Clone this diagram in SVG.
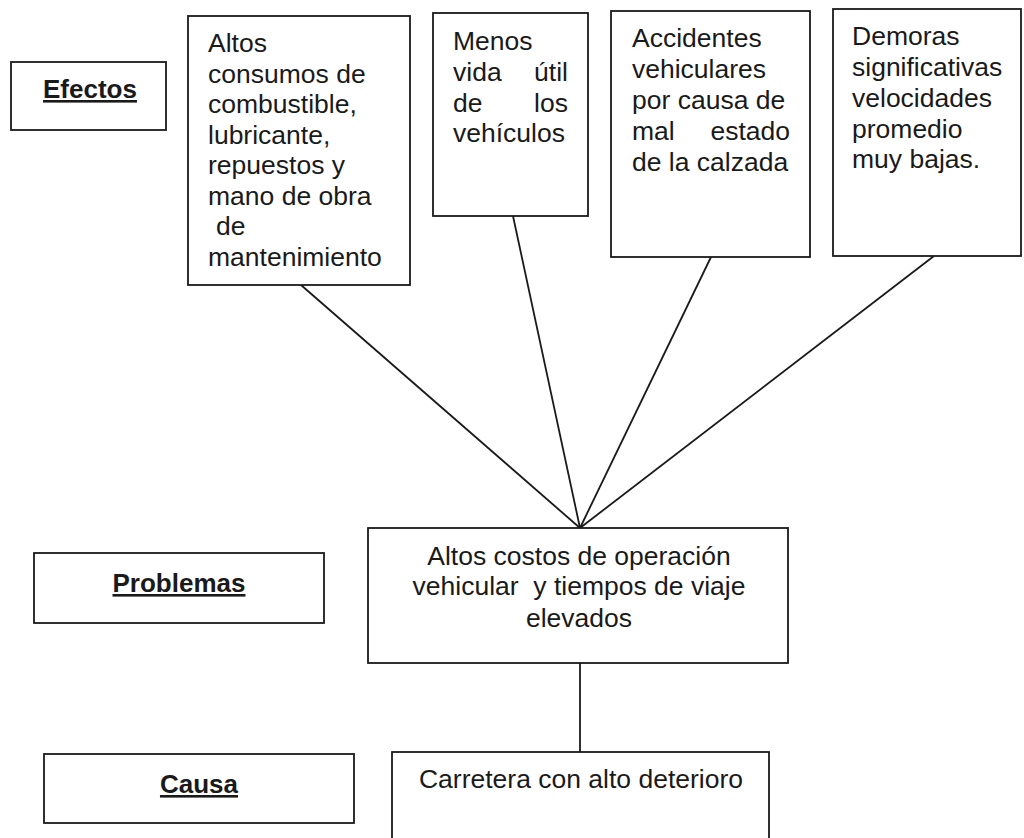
<svg xmlns="http://www.w3.org/2000/svg" width="1024" height="838" viewBox="0 0 1024 838">
<style>
.box{fill:#fff;stroke:#1a1a1a;stroke-width:1.8}
.t{font-family:"Liberation Sans",Arial,sans-serif;font-size:26.5px;fill:#1a1a1a}
.c{text-anchor:middle}
.e{text-anchor:end}
.lbl{font-family:"Liberation Sans",Arial,sans-serif;font-size:26px;font-weight:bold;fill:#1a1a1a;text-anchor:middle;text-decoration:underline}
.con{stroke:#1a1a1a;stroke-width:1.8;fill:none}
</style>
<rect width="1024" height="838" fill="#fff"/>
<g id="connectors">
<line class="con" x1="301" y1="285" x2="580" y2="528"/>
<line class="con" x1="513" y1="216" x2="580" y2="528"/>
<line class="con" x1="711" y1="257" x2="580" y2="528"/>
<line class="con" x1="934" y1="256" x2="580" y2="528"/>
<line class="con" x1="580" y1="663" x2="580" y2="752"/>
</g>
<g id="label-efectos">
<rect class="box" x="11" y="62" width="155" height="68"/>
<text class="lbl" x="90" y="98">Efectos</text>
</g>
<g id="label-problemas">
<rect class="box" x="34" y="553" width="290" height="70"/>
<text class="lbl" x="179" y="592">Problemas</text>
</g>
<g id="label-causa">
<rect class="box" x="44" y="754" width="310" height="69"/>
<text class="lbl" x="199" y="793">Causa</text>
</g>
<g id="efecto-1">
<rect class="box" x="188" y="16" width="222" height="269"/>
<text class="t" x="208" y="52">Altos</text>
<text class="t" x="208" y="82.5">consumos de</text>
<text class="t" x="208" y="113">combustible,</text>
<text class="t" x="208" y="143.5">lubricante,</text>
<text class="t" x="208" y="174">repuestos y</text>
<text class="t" x="208" y="204.5">mano de obra</text>
<text class="t" x="216" y="235">de</text>
<text class="t" x="208" y="265.5">mantenimiento</text>
</g>
<g id="efecto-2">
<rect class="box" x="433" y="13" width="155" height="203"/>
<text class="t" x="453" y="50">Menos</text>
<text class="t" x="453" y="81">vida</text><text class="t e" x="568" y="81">útil</text>
<text class="t" x="453" y="111.5">de</text><text class="t e" x="568" y="111.5">los</text>
<text class="t" x="453" y="142">vehículos</text>
</g>
<g id="efecto-3">
<rect class="box" x="611" y="11" width="199" height="246"/>
<text class="t" x="632" y="47">Accidentes</text>
<text class="t" x="632" y="78">vehiculares</text>
<text class="t" x="632" y="109">por causa de</text>
<text class="t" x="632" y="140">mal</text><text class="t e" x="790" y="140">estado</text>
<text class="t" x="632" y="171">de la calzada</text>
</g>
<g id="efecto-4">
<rect class="box" x="833" y="9" width="188" height="247"/>
<text class="t" x="852" y="45">Demoras</text>
<text class="t" x="852" y="76">significativas</text>
<text class="t" x="852" y="107">velocidades</text>
<text class="t" x="852" y="137.5">promedio</text>
<text class="t" x="852" y="168">muy bajas.</text>
</g>
<g id="problema">
<rect class="box" x="368" y="528" width="420" height="135"/>
<text class="t c" x="579" y="565">Altos costos de operación</text>
<text class="t c" x="579" y="595" xml:space="preserve">vehicular  y tiempos de viaje</text>
<text class="t c" x="579" y="627">elevados</text>
</g>
<g id="causa">
<rect class="box" x="392" y="752" width="377" height="100"/>
<text class="t c" x="581" y="788">Carretera con alto deterioro</text>
</g>
</svg>
